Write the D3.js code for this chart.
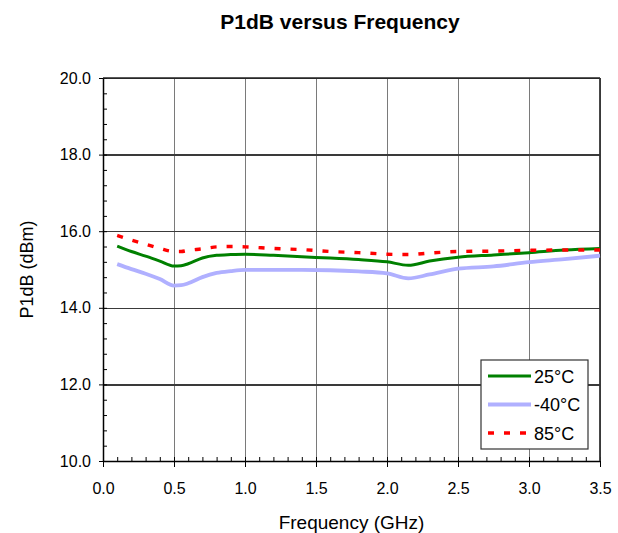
<!DOCTYPE html>
<html>
<head>
<meta charset="utf-8">
<script src="https://cdn.jsdelivr.net/npm/d3@7"></script>
<style>
  body { margin: 0; background: #fff; }
  text { font-family: "Liberation Sans", Arial, sans-serif; fill: #000; }
  .axis path, .axis line { stroke: #000; }
  .grid line { shape-rendering: crispEdges; }
  .grid path { display: none; }
</style>
</head>
<body>
<svg id="chart" width="618" height="533"></svg>
<script>
// data
var freq = [0.1, 0.2, 0.3, 0.4, 0.5, 0.55, 0.6, 0.7, 0.8, 0.9, 1.0, 1.2, 1.4, 1.6, 1.8, 2.0, 2.15, 2.3, 2.5, 2.75, 3.0, 3.25, 3.5];
var p25 = [15.61, 15.47, 15.35, 15.22, 15.09, 15.10, 15.15, 15.30, 15.37, 15.39, 15.40, 15.37, 15.33, 15.30, 15.26, 15.20, 15.11, 15.22, 15.32, 15.38, 15.44, 15.51, 15.55];
var pm40 = [15.14, 15.01, 14.89, 14.75, 14.58, 14.59, 14.64, 14.80, 14.91, 14.96, 14.99, 14.99, 14.99, 14.98, 14.95, 14.90, 14.77, 14.87, 15.02, 15.08, 15.19, 15.27, 15.36];
var p85 = [15.89, 15.77, 15.66, 15.55, 15.47, 15.47, 15.50, 15.54, 15.59, 15.60, 15.59, 15.55, 15.52, 15.47, 15.44, 15.40, 15.39, 15.43, 15.47, 15.48, 15.50, 15.51, 15.51];

var xTicks = [0, 0.5, 1.0, 1.5, 2.0, 2.5, 3.0, 3.5];
var yTicks = [10, 12, 14, 16, 18, 20];
var seriesNames = ["25°C", "-40°C", "85°C"];

var margin = {top: 78, right: 18, bottom: 72, left: 103},
    width = 618 - margin.left - margin.right,
    height = 533 - margin.top - margin.bottom;

var svg = d3.select("#chart");

svg.append("text")
    .attr("x", 340)
    .attr("y", 29)
    .style("text-anchor", "middle")
    .style("font-size", "21px")
    .style("font-weight", "bold")
    .text("P1dB versus Frequency");

var g = svg.append("g")
    .attr("transform", "translate(" + margin.left + "," + margin.top + ")");

var xScale = d3.scaleLinear().domain([0, 3.5]).range([0, width]);
var yScale = d3.scaleLinear().domain([10, 20]).range([height, 0]);

// grid
g.append("g")
    .attr("class", "grid")
    .attr("transform", "translate(0," + height + ")")
    .call(d3.axisBottom(xScale).tickValues(xTicks).tickSize(-height).tickFormat(""))
    .selectAll("line")
    .style("stroke", "#7a7a7a")
    .style("stroke-width", "1.6px");

g.append("g")
    .attr("class", "grid")
    .call(d3.axisLeft(yScale).tickValues(yTicks).tickSize(-width).tickFormat(""))
    .selectAll("line")
    .style("stroke", "#3a3a3a")
    .style("stroke-width", "1.3px");

// minor ticks, inside
var xMinor = d3.range(0, 3.501, 0.1);
var yMinor = d3.range(10, 20.001, 0.4);

g.append("g")
    .attr("class", "axis")
    .attr("transform", "translate(0," + height + ")")
    .call(d3.axisBottom(xScale).tickValues(xMinor).tickSize(-4).tickFormat(""))
    .select(".domain").remove();

g.append("g")
    .attr("class", "axis")
    .call(d3.axisLeft(yScale).tickValues(yMinor).tickSize(-4).tickFormat(""))
    .select(".domain").remove();

// main axes
var xAxis = g.append("g")
    .attr("class", "axis")
    .attr("transform", "translate(0," + height + ")")
    .call(d3.axisBottom(xScale).tickValues(xTicks).tickSize(6).tickSizeOuter(0).tickPadding(16)
        .tickFormat(d3.format(".1f")));
xAxis.selectAll("text").style("font-size", "16px");
xAxis.select(".domain").style("stroke-width", "1.5px");

var yAxis = g.append("g")
    .attr("class", "axis")
    .call(d3.axisLeft(yScale).tickValues(yTicks).tickSize(4).tickSizeOuter(0).tickPadding(8)
        .tickFormat(d3.format(".1f")));
yAxis.selectAll("text").style("font-size", "16px");
yAxis.select(".domain").style("stroke-width", "1.5px");

// top and right border
g.append("line").attr("x1", 0).attr("x2", width).attr("y1", 0).attr("y2", 0)
    .style("stroke", "#222").style("stroke-width", "1.3px");
g.append("line").attr("x1", width).attr("x2", width).attr("y1", 0).attr("y2", height)
    .style("stroke", "#333").style("stroke-width", "1.8px");

// axis titles
svg.append("text")
    .attr("x", margin.left + width / 2)
    .attr("y", 529)
    .style("text-anchor", "middle")
    .style("font-size", "19px")
    .text("Frequency (GHz)");

svg.append("text")
    .attr("transform", "rotate(-90)")
    .attr("x", -(margin.top + height / 2))
    .attr("y", 33)
    .style("text-anchor", "middle")
    .style("font-size", "18px")
    .text("P1dB (dBm)");

// lines
var line = d3.line()
    .x(function(d) { return xScale(d[0]); })
    .y(function(d) { return yScale(d[1]); })
    .curve(d3.curveMonotoneX);

var styles = [
    {color: "#b0b0ff", w: 3.8, dash: null},
    {color: "#008000", w: 3, dash: null},
    {color: "#ff0000", w: 3.4, dash: "6,10"}
];
var series = [pm40, p25, p85];

series.forEach(function(vals, i) {
    var pts = freq.map(function(f, j) { return [f, vals[j]]; });
    g.append("path")
        .datum(pts)
        .attr("d", line)
        .style("fill", "none")
        .style("stroke", styles[i].color)
        .style("stroke-width", styles[i].w + "px")
        .style("stroke-dasharray", styles[i].dash);
});

// legend
var legend = svg.append("g").attr("transform", "translate(481,360)");
legend.append("rect")
    .attr("width", 107).attr("height", 89)
    .style("fill", "#fff").style("stroke", "#333").style("stroke-width", "1.2px");

var legendStyles = [styles[1], styles[0], styles[2]];
seriesNames.forEach(function(name, i) {
    var yy = 16 + i * 28.5;
    legend.append("line")
        .attr("x1", 7).attr("x2", 50).attr("y1", yy).attr("y2", yy)
        .style("stroke", legendStyles[i].color)
        .style("stroke-width", legendStyles[i].w + "px")
        .style("stroke-dasharray", legendStyles[i].dash);
    legend.append("text")
        .attr("x", 53).attr("y", yy + 6.5)
        .style("font-size", "18px")
        .text(name);
});
</script>
</body>
</html>
